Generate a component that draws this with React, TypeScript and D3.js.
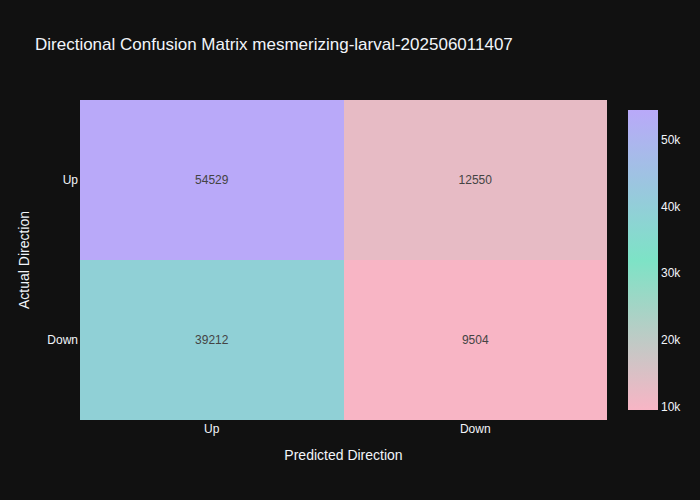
import React, { useEffect, useRef } from 'react';
import * as d3 from 'd3';

// Confusion matrix values (rows = actual, cols = predicted)
const actualLabels = ['Up', 'Down'];
const predictedLabels = ['Up', 'Down'];
const counts = [
  [54529, 12550],
  [39212, 9504],
];
const colorStops = ['#F8B5C5', '#7DE3C6', '#B9A9F9'];
const colorbarTicks = [10000, 20000, 30000, 40000, 50000];

const W = 700;
const H = 500;
const FONT = '"Liberation Sans", Arial, sans-serif';

export default function App() {
  const svgRef = useRef<SVGSVGElement>(null);

  useEffect(() => {
    if (!svgRef.current) return;
    const svg = d3.select(svgRef.current);
    svg.selectAll('*').remove();

    svg.append('rect').attr('width', W).attr('height', H).attr('fill', '#111111');

    const plot = { left: 80, right: 607, top: 100, bottom: 420 };
    const flat = counts.flat();
    const zmin = d3.min(flat) as number;
    const zmax = d3.max(flat) as number;

    const color = d3.scaleLinear<string>()
      .domain([zmin, (zmin + zmax) / 2, zmax])
      .range(colorStops)
      .interpolate(d3.interpolateRgb);

    const x = d3.scaleBand<string>().domain(predictedLabels).range([plot.left, plot.right]);
    const y = d3.scaleBand<string>().domain(actualLabels).range([plot.top, plot.bottom]);

    // cells (snapped to whole pixels so neighbours meet without a seam)
    const g = svg.append('g').attr('shape-rendering', 'crispEdges');
    actualLabels.forEach((a, i) => {
      predictedLabels.forEach((p, j) => {
        const v = counts[i][j];
        const x0 = Math.round(x(p)!);
        const x1 = Math.round(x(p)! + x.bandwidth());
        const y0 = Math.round(y(a)!);
        const y1 = Math.round(y(a)! + y.bandwidth());
        g.append('rect')
          .attr('x', x0)
          .attr('y', y0)
          .attr('width', x1 - x0)
          .attr('height', y1 - y0)
          .attr('fill', color(v));
      });
    });
    actualLabels.forEach((a, i) => {
      predictedLabels.forEach((p, j) => {
        svg.append('text')
          .attr('x', x(p)! + x.bandwidth() / 2)
          .attr('y', y(a)! + y.bandwidth() / 2 + 4)
          .attr('text-anchor', 'middle')
          .attr('font-family', FONT)
          .attr('font-size', 12)
          .attr('fill', '#444')
          .text(String(counts[i][j]));
      });
    });

    // tick labels
    predictedLabels.forEach(p => {
      svg.append('text')
        .attr('x', x(p)! + x.bandwidth() / 2)
        .attr('y', 433)
        .attr('text-anchor', 'middle')
        .attr('font-family', FONT)
        .attr('font-size', 12)
        .attr('fill', '#f2f5fa')
        .text(p);
    });
    actualLabels.forEach(a => {
      svg.append('text')
        .attr('x', 78)
        .attr('y', y(a)! + y.bandwidth() / 2 + 4)
        .attr('text-anchor', 'end')
        .attr('font-family', FONT)
        .attr('font-size', 12)
        .attr('fill', '#f2f5fa')
        .text(a);
    });

    // axis titles
    svg.append('text')
      .attr('x', (plot.left + plot.right) / 2)
      .attr('y', 460)
      .attr('text-anchor', 'middle')
      .attr('font-family', FONT)
      .attr('font-size', 14)
      .attr('fill', '#f2f5fa')
      .text('Predicted Direction');
    svg.append('text')
      .attr('transform', `translate(29,${(plot.top + plot.bottom) / 2}) rotate(-90)`)
      .attr('text-anchor', 'middle')
      .attr('font-family', FONT)
      .attr('font-size', 14)
      .attr('fill', '#f2f5fa')
      .text('Actual Direction');

    // title
    svg.append('text')
      .attr('x', 35)
      .attr('y', 50)
      .attr('font-family', FONT)
      .attr('font-size', 17)
      .attr('fill', '#f2f5fa')
      .text('Directional Confusion Matrix mesmerizing-larval-202506011407');

    // colorbar
    const cb = { x: 628, w: 30, top: 110, bottom: 410 };
    const cbScale = d3.scaleLinear().domain([zmin, zmax]).range([cb.bottom, cb.top]);
    const defs = svg.append('defs');
    const grad = defs.append('linearGradient')
      .attr('id', 'cbgrad')
      .attr('x1', 0).attr('y1', 1).attr('x2', 0).attr('y2', 0);
    colorStops.forEach((c, i) => {
      grad.append('stop').attr('offset', i / (colorStops.length - 1)).attr('stop-color', c);
    });
    svg.append('rect')
      .attr('x', cb.x)
      .attr('y', cb.top)
      .attr('width', cb.w)
      .attr('height', cb.bottom - cb.top)
      .attr('fill', 'url(#cbgrad)');
    colorbarTicks.forEach(t => {
      svg.append('text')
        .attr('x', cb.x + cb.w + 3)
        .attr('y', cbScale(t) + 4)
        .attr('font-family', FONT)
        .attr('font-size', 12)
        .attr('fill', '#f2f5fa')
        .text(d3.format('~s')(t));
    });
  }, []);

  return (
    <svg
      ref={svgRef}
      width={W}
      height={H}
      style={{ display: 'block', position: 'absolute', left: 0, top: 0 }}
    />
  );
}
